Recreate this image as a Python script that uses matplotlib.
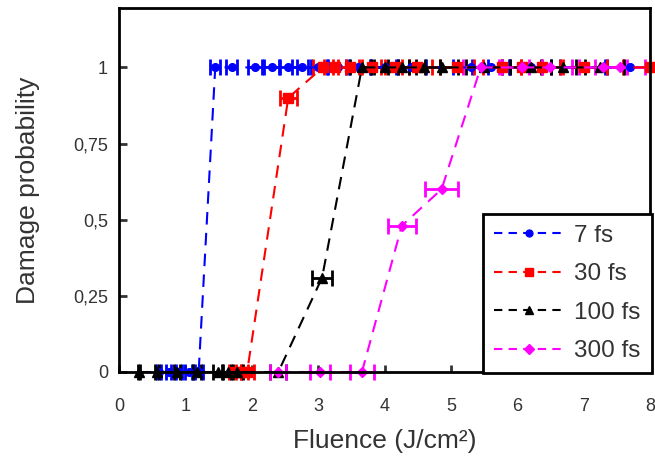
import matplotlib
matplotlib.use("Agg")
import matplotlib.pyplot as plt
import numpy as np
from matplotlib.lines import Line2D

plt.rcParams['font.family'] = ['Liberation Sans', 'DejaVu Sans']

# data
x_7 = [0.6, 0.75, 0.9, 1.05, 1.2, 1.45, 1.7, 2.05, 2.3, 2.55, 2.75, 3.0, 3.3, 3.6, 4.0, 4.4, 5.3, 5.6, 6.2, 7.0, 7.7]
y_7 = [0, 0, 0, 0, 0, 1, 1, 1, 1, 1, 1, 1, 1, 1, 1, 1, 1, 1, 1, 1, 1]
x_30 = [1.75, 1.85, 1.93, 2.55, 3.07, 3.25, 3.48, 3.81, 4.16, 4.49, 5.09, 5.77, 6.07, 6.37, 7.0, 8.0]
y_30 = [0, 0, 0, 0.9, 1, 1, 1, 1, 1, 1, 1, 1, 1, 1, 1, 1]
x_100 = [0.3, 0.57, 0.87, 1.17, 1.49, 1.64, 1.78, 2.4, 3.06, 3.66, 4.0, 4.26, 4.6, 4.86, 5.5, 6.2, 6.69, 7.24]
y_100 = [0, 0, 0, 0, 0, 0, 0, 0, 0.31, 1, 1, 1, 1, 1, 1, 1, 1, 1]
x_300 = [2.4, 3.03, 3.66, 4.26, 4.86, 5.45, 6.07, 6.5, 7.29, 7.55]
y_300 = [0, 0, 0, 0.48, 0.6, 1, 1, 1, 1, 1]
rel_err = 0.05

series = [
    (x_7, y_7, '7 fs', '#0000FF', 'o', 5.5),
    (x_30, y_30, '30 fs', '#FF0000', 's', 6.5),
    (x_100, y_100, '100 fs', '#000000', '^', 7),
    (x_300, y_300, '300 fs', '#FF00FF', 'D', 5.5),
]

xticks = [0, 1, 2, 3, 4, 5, 6, 7, 8]
yticks = [0, 0.25, 0.5, 0.75, 1]
ytick_labels = ['0', '0,25', '0,5', '0,75', '1']

fig = plt.figure(figsize=(6.55, 4.63), dpi=100)
ax = fig.add_axes([119/655, (463-372)/463, (650-119)/655, (372-8)/463])

for x, y, lab, c, m, ms in series:
    x = np.array(x); y = np.array(y)
    ax.errorbar(x, y, xerr=rel_err*x, fmt=m, color=c, ms=ms,
                ecolor=c, elinewidth=2, capsize=5.5, capthick=2,
                linestyle=(0, (6, 4)), lw=1.5, label=lab, clip_on=False)

ax.set_xlim(0, 8)
ax.set_ylim(0, 1.195)
ax.set_xticks(xticks)
ax.set_yticks(yticks)
ax.set_yticklabels(ytick_labels)
ax.tick_params(direction='in', length=6, width=2, labelsize=13, colors='#333333', pad=8)
ax.tick_params(axis='x', length=5, pad=19)
for sp in ax.spines.values():
    sp.set_linewidth(2)
    sp.set_color('black')

ax.set_xlabel('Fluence (J/cm²)', fontsize=19, color='#333333', labelpad=10)
ax.set_ylabel('Damage probability', fontsize=19, color='#333333', labelpad=24)

leg_handles = [Line2D([0], [0], color=c, marker=m, ms=ms*0.9, linestyle=(0, (4, 3)), lw=1.5)
               for _, _, _, c, m, ms in series]
leg = ax.legend(leg_handles, [s[2] for s in series], loc='lower right',
                bbox_to_anchor=(1.003, -0.003), borderaxespad=0, fontsize=17.5,
                frameon=True, fancybox=False, edgecolor='black', framealpha=1,
                handlelength=2.9, numpoints=1, borderpad=0.45, labelspacing=0.68,
                handletextpad=0.4)
leg.get_frame().set_linewidth(2)
for t in leg.get_texts():
    t.set_color('#333333')

fig.savefig('out.png', dpi=100)
